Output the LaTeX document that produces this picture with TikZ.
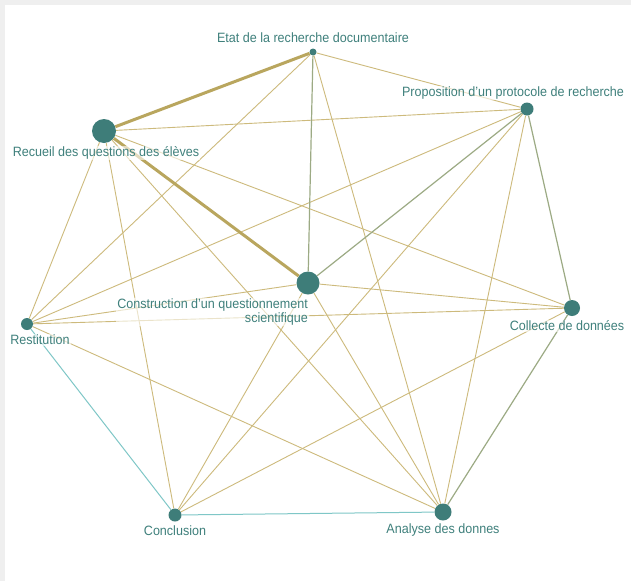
\documentclass[tikz,border=0pt]{standalone}
\usepackage{fontspec}
\setmainfont{Liberation Sans}[FakeStretch=0.93]
\definecolor{nodeteal}{HTML}{3E7D79}
\definecolor{txteal}{HTML}{3F807C}
\definecolor{gold}{HTML}{CDBA7C}
\definecolor{goldthick}{HTML}{B9A65E}
\definecolor{sage}{HTML}{9CAA84}
\definecolor{cyanline}{HTML}{7FC7C7}
\definecolor{frame}{HTML}{EFEFEF}
\tikzset{
  vert/.style={circle, fill=nodeteal, inner sep=0pt, minimum size=#1},
  lbl/.style={text=txteal, font=\fontsize{13.5}{14}\selectfont, inner sep=1pt, fill=white, fill opacity=0.6, text opacity=1},
  edge/.style={draw=gold, line width=0.9pt},
  thickedge/.style={draw=goldthick, line width=3pt},
  sageedge/.style={draw=sage, line width=1.2pt},
  cyanedge/.style={draw=cyanline, line width=1pt},
}
\begin{document}
\begin{tikzpicture}[x=1pt, y=-1pt]
\useasboundingbox (0,0) rectangle (631,581);
\fill[frame] (0,0) rectangle (631,581);
\fill[white] (4.5,4.5) rectangle (631,581);
% vertices
\node[vert=7pt]  (E)  at (313,52)  {};
\node[vert=13pt] (P)  at (527,109) {};
\node[vert=24pt] (R)  at (104,131) {};
\node[vert=23pt] (C)  at (308,283) {};
\node[vert=16pt] (Co) at (572,308) {};
\node[vert=12pt] (Re) at (27,324)  {};
\node[vert=13pt] (Cl) at (175,515) {};
\node[vert=17pt] (A)  at (443,512) {};
% edges
\path[edge] (E) -- (P);
\path[edge] (E) -- (Re);
\path[edge] (E) -- (A);
\path[edge] (R) -- (P);
\path[edge] (R) -- (Re);
\path[edge] (R) -- (Cl);
\path[edge] (R) -- (A);
\path[edge] (R) -- (Co);
\path[edge] (P) -- (Re);
\path[edge] (P) -- (Cl);
\path[edge] (P) -- (A);
\path[edge] (C) -- (Re);
\path[edge] (C) -- (Co);
\path[edge] (C) -- (A);
\path[edge] (C) -- (Cl);
\path[edge] (Re) -- (Co);
\path[edge] (Re) -- (A);
\path[edge] (Co) -- (Cl);
\path[sageedge] (E) -- (C);
\path[sageedge] (P) -- (C);
\path[sageedge] (P) -- (Co);
\path[sageedge] (Co) -- (A);
\path[cyanedge] (Re) -- (Cl);
\path[cyanedge] (Cl) -- (A);
\path[thickedge] (E) -- (R);
\path[thickedge] (R) -- (C);
% labels
\node[lbl] (lE)  at (313,38)  {Etat de la recherche documentaire};
\node[lbl] (lP)  at (513,93)  {Proposition d'un protocole de recherche};
\node[lbl] (lR)  at (106,153) {Recueil des questions des élèves};
\node[lbl, align=right, anchor=east] (lC) at (309,312) {Construction d'un questionnement\\scientifique};
\node[lbl] (lCo) at (567,326) {Collecte de données};
\node[lbl] (lRe) at (40,340)  {Restitution};
\node[lbl] (lCl) at (175,531) {Conclusion};
\node[lbl] (lA)  at (443,530) {Analyse des donnes};
\end{tikzpicture}
\end{document}
